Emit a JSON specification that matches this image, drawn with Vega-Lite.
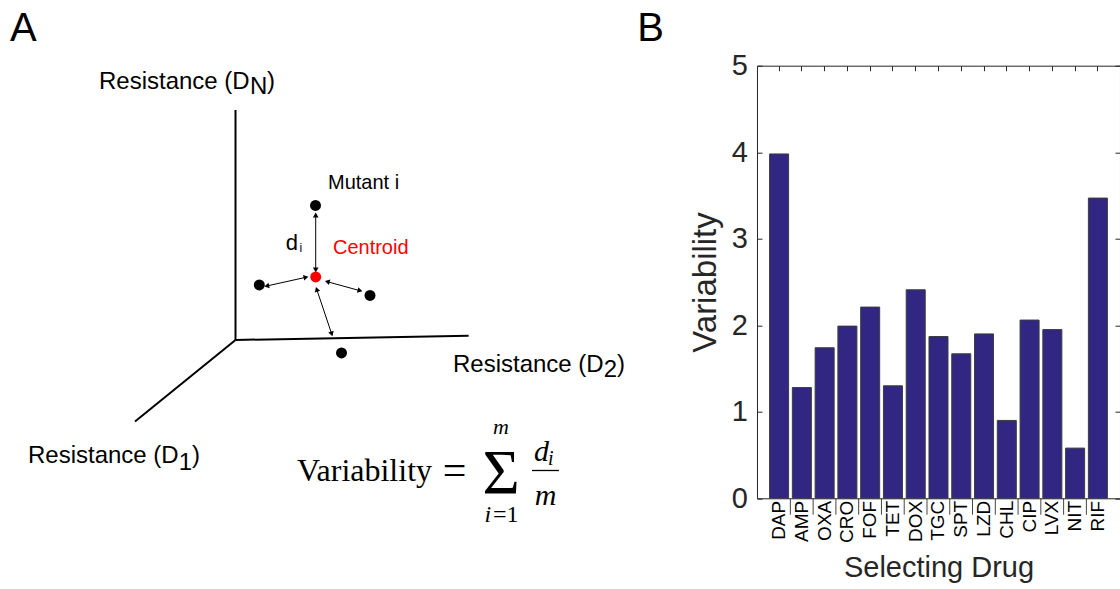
{
  "$schema": "https://vega.github.io/schema/vega-lite/v6.json",
  "padding": {"left": 10, "top": 8.7, "right": 0, "bottom": 0},
  "spacing": 7,
  "background": "white",
  "config": {
    "view": {"stroke": null},
    "font": "Liberation Sans",
    "title": {"fontSize": 40, "fontWeight": "normal", "anchor": "start", "frame": "group", "color": "#000000", "font": "Liberation Sans"}
  },
  "datasets": {
    "axes3d": [
      {"x1": 235.5, "y1": 110, "x2": 235.5, "y2": 340},
      {"x1": 235.5, "y1": 340, "x2": 468.6, "y2": 335.7},
      {"x1": 235.5, "y1": 340, "x2": 135, "y2": 421.5}
    ],
    "arrows": [
      {"x1": 315.7, "y1": 215, "x2": 315.7, "y2": 270},
      {"x1": 306, "y1": 277.3, "x2": 266.7, "y2": 286},
      {"x1": 327.3, "y1": 281.7, "x2": 360, "y2": 290.7},
      {"x1": 316.7, "y1": 289.3, "x2": 331.7, "y2": 334}
    ],
    "dots": [
      {"x": 315.5, "y": 205.5, "kind": "mutant"},
      {"x": 259.3, "y": 285, "kind": "mutant"},
      {"x": 370, "y": 295.5, "kind": "mutant"},
      {"x": 341.5, "y": 353, "kind": "mutant"},
      {"x": 315.7, "y": 277, "kind": "centroid"}
    ],
    "fraction": [{"x1": 532, "y1": 470.5, "x2": 559, "y2": 470.5}],
    "texts": [
      {"t": "Resistance (D", "x": 99, "y": 89, "role": "axis", "kind": "mutant"},
      {"t": "N", "x": 250, "y": 94, "role": "axis", "kind": "mutant"},
      {"t": ")", "x": 267, "y": 89, "role": "axis", "kind": "mutant"},
      {"t": "Resistance (D", "x": 28, "y": 463, "role": "axis", "kind": "mutant"},
      {"t": "1", "x": 178.7, "y": 470, "role": "axis", "kind": "mutant"},
      {"t": ")", "x": 192, "y": 463, "role": "axis", "kind": "mutant"},
      {"t": "Resistance (D", "x": 453, "y": 372, "role": "axis", "kind": "mutant"},
      {"t": "2", "x": 603.7, "y": 377, "role": "axis", "kind": "mutant"},
      {"t": ")", "x": 617, "y": 372, "role": "axis", "kind": "mutant"},
      {"t": "Mutant i", "x": 328, "y": 189, "role": "note", "kind": "mutant"},
      {"t": "Centroid", "x": 333, "y": 254, "role": "note", "kind": "centroid"},
      {"t": "d", "x": 285.7, "y": 250, "role": "dist", "kind": "mutant"},
      {"t": "i", "x": 299.5, "y": 252, "role": "distSub", "kind": "mutant"},
      {"t": "Variability", "x": 297, "y": 481.5, "role": "lhs", "kind": "mutant"},
      {"t": "=", "x": 454.5, "y": 484, "role": "eq", "kind": "mutant"},
      {"t": "Σ", "x": 501, "y": 494, "role": "sigma", "kind": "mutant"},
      {"t": "m", "x": 501, "y": 434, "role": "limUp", "kind": "mutant"},
      {"t": "i", "x": 484.5, "y": 522, "role": "limLowI", "kind": "mutant"},
      {"t": "=1", "x": 493, "y": 522, "role": "limLowRest", "kind": "mutant"},
      {"t": "d", "x": 534, "y": 461, "role": "num", "kind": "mutant"},
      {"t": "i", "x": 548, "y": 465, "role": "numSub", "kind": "mutant"},
      {"t": "m", "x": 545.5, "y": 505, "role": "den", "kind": "mutant"}
    ],
    "bars": [
      {"drug": "DAP", "variability": 3.98},
      {"drug": "AMP", "variability": 1.28},
      {"drug": "OXA", "variability": 1.74},
      {"drug": "CRO", "variability": 1.99},
      {"drug": "FOF", "variability": 2.21},
      {"drug": "TET", "variability": 1.3},
      {"drug": "DOX", "variability": 2.41},
      {"drug": "TGC", "variability": 1.87},
      {"drug": "SPT", "variability": 1.67},
      {"drug": "LZD", "variability": 1.9},
      {"drug": "CHL", "variability": 0.9},
      {"drug": "CIP", "variability": 2.06},
      {"drug": "LVX", "variability": 1.95},
      {"drug": "NIT", "variability": 0.58},
      {"drug": "RIF", "variability": 3.47}
    ]
  },
  "hconcat": [
    {
      "width": 620,
      "height": 480,
      "title": {"text": "A", "offset": 17},
      "encoding": {
        "x": {"field": "x1", "type": "quantitative", "scale": {"domain": [10, 630], "nice": false, "zero": false}, "axis": null},
        "y": {"field": "y1", "type": "quantitative", "scale": {"domain": [65.7, 545.7], "nice": false, "zero": false, "reverse": true}, "axis": null}
      },
      "layer": [
        {
          "data": {"name": "axes3d"},
          "mark": {"type": "rule", "color": "#000000", "strokeWidth": 2},
          "encoding": {"x2": {"field": "x2"}, "y2": {"field": "y2"}}
        },
        {
          "data": {"name": "arrows"},
          "mark": {"type": "rule", "color": "#000000", "strokeWidth": 1},
          "encoding": {"x2": {"field": "x2"}, "y2": {"field": "y2"}}
        },
        {
          "data": {"name": "arrows"},
          "transform": [{"calculate": "atan2(datum.x2 - datum.x1, datum.y1 - datum.y2) * 180 / PI", "as": "ang"}],
          "mark": {"type": "point", "shape": "triangle-up", "filled": true, "color": "#000000", "size": 32, "opacity": 1},
          "encoding": {
            "x": {"field": "x2", "type": "quantitative"},
            "y": {"field": "y2", "type": "quantitative"},
            "angle": {"field": "ang", "type": "quantitative", "scale": null}
          }
        },
        {
          "data": {"name": "arrows"},
          "transform": [{"calculate": "atan2(datum.x1 - datum.x2, datum.y2 - datum.y1) * 180 / PI", "as": "ang"}],
          "mark": {"type": "point", "shape": "triangle-up", "filled": true, "color": "#000000", "size": 32, "opacity": 1},
          "encoding": {
            "angle": {"field": "ang", "type": "quantitative", "scale": null}
          }
        },
        {
          "data": {"name": "dots"},
          "mark": {"type": "point", "shape": "circle", "filled": true, "size": 120, "opacity": 1},
          "encoding": {
            "x": {"field": "x", "type": "quantitative"},
            "y": {"field": "y", "type": "quantitative"},
            "color": {"field": "kind", "type": "nominal", "scale": {"domain": ["mutant", "centroid"], "range": ["#000000", "#ff0000"]}, "legend": null}
          }
        },
        {
          "data": {"name": "fraction"},
          "mark": {"type": "rule", "color": "#000000", "strokeWidth": 1.3},
          "encoding": {"x2": {"field": "x2"}, "y2": {"field": "y2"}}
        },
        {
          "data": {"name": "texts"},
          "transform": [{"filter": "datum.role === 'axis'"}],
          "mark": {"type": "text", "font": "Liberation Sans", "fontSize": 24, "align": "left", "baseline": "alphabetic", "color": "#000000"},
          "encoding": {"x": {"field": "x", "type": "quantitative"}, "y": {"field": "y", "type": "quantitative"}, "text": {"field": "t"}}
        },
        {
          "data": {"name": "texts"},
          "transform": [{"filter": "datum.role === 'note'"}],
          "mark": {"type": "text", "font": "Liberation Sans", "fontSize": 20, "align": "left", "baseline": "alphabetic"},
          "encoding": {"x": {"field": "x", "type": "quantitative"}, "y": {"field": "y", "type": "quantitative"}, "text": {"field": "t"},
            "color": {"field": "kind", "type": "nominal", "scale": {"domain": ["mutant", "centroid"], "range": ["#000000", "#ff0000"]}, "legend": null}}
        },
        {
          "data": {"name": "texts"},
          "transform": [{"filter": "datum.role === 'dist'"}],
          "mark": {"type": "text", "font": "Liberation Sans", "fontSize": 22, "align": "left", "baseline": "alphabetic", "color": "#000000"},
          "encoding": {"x": {"field": "x", "type": "quantitative"}, "y": {"field": "y", "type": "quantitative"}, "text": {"field": "t"}}
        },
        {
          "data": {"name": "texts"},
          "transform": [{"filter": "datum.role === 'distSub'"}],
          "mark": {"type": "text", "font": "Liberation Sans", "fontSize": 12, "align": "left", "baseline": "alphabetic", "color": "#000000"},
          "encoding": {"x": {"field": "x", "type": "quantitative"}, "y": {"field": "y", "type": "quantitative"}, "text": {"field": "t"}}
        },
        {
          "data": {"name": "texts"},
          "transform": [{"filter": "datum.role === 'lhs'"}],
          "mark": {"type": "text", "font": "Liberation Serif", "fontSize": 32, "align": "left", "baseline": "alphabetic", "color": "#000000"},
          "encoding": {"x": {"field": "x", "type": "quantitative"}, "y": {"field": "y", "type": "quantitative"}, "text": {"field": "t"}}
        },
        {
          "data": {"name": "texts"},
          "transform": [{"filter": "datum.role === 'eq'"}],
          "mark": {"type": "text", "font": "Liberation Serif", "fontSize": 42, "align": "center", "baseline": "alphabetic", "color": "#000000"},
          "encoding": {"x": {"field": "x", "type": "quantitative"}, "y": {"field": "y", "type": "quantitative"}, "text": {"field": "t"}}
        },
        {
          "data": {"name": "texts"},
          "transform": [{"filter": "datum.role === 'sigma'"}],
          "mark": {"type": "text", "font": "Liberation Serif", "fontSize": 64, "align": "center", "baseline": "alphabetic", "color": "#000000"},
          "encoding": {"x": {"field": "x", "type": "quantitative"}, "y": {"field": "y", "type": "quantitative"}, "text": {"field": "t"}}
        },
        {
          "data": {"name": "texts"},
          "transform": [{"filter": "datum.role === 'limUp'"}],
          "mark": {"type": "text", "font": "Liberation Serif", "fontStyle": "italic", "fontSize": 22, "align": "center", "baseline": "alphabetic", "color": "#000000"},
          "encoding": {"x": {"field": "x", "type": "quantitative"}, "y": {"field": "y", "type": "quantitative"}, "text": {"field": "t"}}
        },
        {
          "data": {"name": "texts"},
          "transform": [{"filter": "datum.role === 'limLowI'"}],
          "mark": {"type": "text", "font": "Liberation Serif", "fontStyle": "italic", "fontSize": 24, "align": "left", "baseline": "alphabetic", "color": "#000000"},
          "encoding": {"x": {"field": "x", "type": "quantitative"}, "y": {"field": "y", "type": "quantitative"}, "text": {"field": "t"}}
        },
        {
          "data": {"name": "texts"},
          "transform": [{"filter": "datum.role === 'limLowRest'"}],
          "mark": {"type": "text", "font": "Liberation Serif", "fontSize": 24, "align": "left", "baseline": "alphabetic", "color": "#000000"},
          "encoding": {"x": {"field": "x", "type": "quantitative"}, "y": {"field": "y", "type": "quantitative"}, "text": {"field": "t"}}
        },
        {
          "data": {"name": "texts"},
          "transform": [{"filter": "datum.role === 'num'"}],
          "mark": {"type": "text", "font": "Liberation Serif", "fontStyle": "italic", "fontSize": 30, "align": "left", "baseline": "alphabetic", "color": "#000000"},
          "encoding": {"x": {"field": "x", "type": "quantitative"}, "y": {"field": "y", "type": "quantitative"}, "text": {"field": "t"}}
        },
        {
          "data": {"name": "texts"},
          "transform": [{"filter": "datum.role === 'numSub'"}],
          "mark": {"type": "text", "font": "Liberation Serif", "fontStyle": "italic", "fontSize": 20, "align": "left", "baseline": "alphabetic", "color": "#000000"},
          "encoding": {"x": {"field": "x", "type": "quantitative"}, "y": {"field": "y", "type": "quantitative"}, "text": {"field": "t"}}
        },
        {
          "data": {"name": "texts"},
          "transform": [{"filter": "datum.role === 'den'"}],
          "mark": {"type": "text", "font": "Liberation Serif", "fontStyle": "italic", "fontSize": 30, "align": "center", "baseline": "alphabetic", "color": "#000000"},
          "encoding": {"x": {"field": "x", "type": "quantitative"}, "y": {"field": "y", "type": "quantitative"}, "text": {"field": "t"}}
        }
      ]
    },
    {
      "width": 363,
      "height": 432.6,
      "title": {"text": "B", "dx": -119.7, "offset": 2.5},
      "data": {"name": "bars"},
      "layer": [
        {
          "mark": {"type": "bar", "color": "#312783", "stroke": "#3c3c3c", "strokeWidth": 1},
          "encoding": {
            "x": {
              "field": "drug", "type": "nominal",
              "scale": {"domain": ["DAP", "AMP", "OXA", "CRO", "FOF", "TET", "DOX", "TGC", "SPT", "LZD", "CHL", "CIP", "LVX", "NIT", "RIF"], "paddingInner": 0.165, "paddingOuter": 0.553},
              "axis": {
                "orient": "bottom", "title": "Selecting Drug", "titleFontSize": 29, "titleFontWeight": "normal", "titleColor": "#262626", "titlePadding": 11,
                "labelAngle": 270, "labelAlign": "right", "labelBaseline": "middle", "labelFontSize": 19, "labelColor": "#000000", "labelPadding": 2,
                "labelOverlap": false, "labelLimit": 200,
                "ticks": false, "tickSize": 0, "domain": true, "domainColor": "#262626", "domainWidth": 1, "grid": false
              }
            },
            "y": {
              "field": "variability", "type": "quantitative",
              "scale": {"domain": [0, 5], "nice": false, "zero": true},
              "axis": {
                "orient": "left", "values": [0, 1, 2, 3, 4, 5], "title": "Variability", "titleFontSize": 33, "titleFontWeight": "normal", "titleColor": "#262626", "titlePadding": 9,
                "labelFontSize": 29, "labelColor": "#262626", "labelPadding": 14.7, "labelFlush": false, "labelOverlap": false,
                "ticks": true, "tickSize": -5, "tickColor": "#262626", "domain": true, "domainColor": "#262626", "grid": false
              }
            }
          }
        },
        {
          "transform": [{"filter": "datum.drug !== 'DAP'"}],
          "mark": {"type": "rule", "color": "#444444", "strokeWidth": 1, "xOffset": -2},
          "encoding": {
            "x": {"field": "drug", "type": "nominal", "bandPosition": 0,
              "scale": {"domain": ["DAP", "AMP", "OXA", "CRO", "FOF", "TET", "DOX", "TGC", "SPT", "LZD", "CHL", "CIP", "LVX", "NIT", "RIF"], "paddingInner": 0.165, "paddingOuter": 0.553},
              "axis": null},
            "y": {"datum": 0, "type": "quantitative", "scale": {"domain": [0, 5], "nice": false, "zero": true}, "axis": null},
            "y2": {"datum": -0.19}
          }
        },
        {
          "mark": {"type": "point", "opacity": 0},
          "encoding": {
            "x": {
              "field": "drug", "type": "nominal",
              "scale": {"domain": ["DAP", "AMP", "OXA", "CRO", "FOF", "TET", "DOX", "TGC", "SPT", "LZD", "CHL", "CIP", "LVX", "NIT", "RIF"], "paddingInner": 0.165, "paddingOuter": 0.553},
              "axis": {"orient": "top", "title": null, "labels": false, "ticks": true, "tickSize": -5, "tickColor": "#262626", "domain": true, "domainColor": "#262626", "grid": false}
            },
            "y": {
              "field": "variability", "type": "quantitative",
              "scale": {"domain": [0, 5], "nice": false, "zero": true},
              "axis": {"orient": "right", "values": [0, 1, 2, 3, 4, 5], "title": null, "labels": false, "ticks": true, "tickSize": -5, "tickColor": "#262626", "domain": true, "domainColor": "#262626", "grid": false}
            }
          }
        }
      ],
      "resolve": {"axis": {"x": "independent", "y": "independent"}}
    }
  ]
}
